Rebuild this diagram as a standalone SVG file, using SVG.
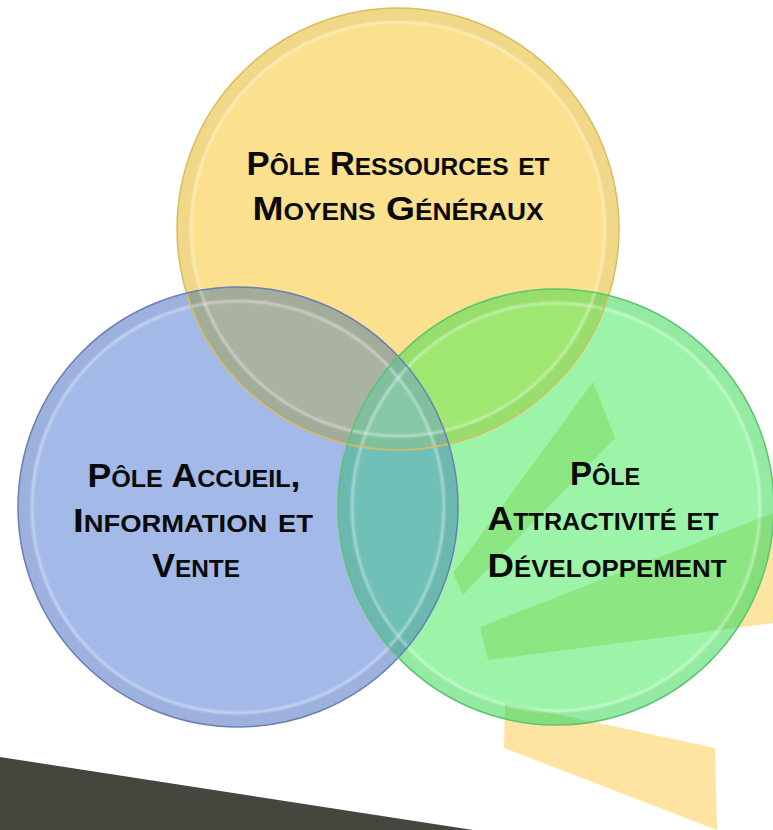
<svg xmlns="http://www.w3.org/2000/svg" width="773" height="830" viewBox="0 0 773 830">
<defs>
<style>
.lbl{font-family:"Liberation Sans",Arial,sans-serif;font-weight:bold;font-size:34px;font-variant:small-caps;fill:#0a0a0a;text-anchor:middle}
.band{fill:#fde4a0}
.hl{fill:none;stroke:#ffffff;stroke-opacity:0.42;stroke-width:2.5}
.rim{fill:none;stroke:#000;stroke-opacity:0.04;stroke-width:13}
</style>
<filter id="blur" x="-10%" y="-10%" width="120%" height="120%"><feGaussianBlur stdDeviation="1.3"/></filter>
<clipPath id="cY"><circle cx="398" cy="229" r="221"/></clipPath>
<clipPath id="cB"><circle cx="238" cy="507" r="220"/></clipPath>
<clipPath id="cG"><circle cx="556" cy="507" r="218"/></clipPath>
</defs>
<rect width="773" height="830" fill="#ffffff"/>
<g id="background">
<polygon points="0,757 473,830 0,830" fill="#46463f"/>
<polygon class="band" points="593,382 615,438 463,595 453,573"/>
<polygon class="band" points="480,627 773,513 773,623 488,660"/>
<polygon class="band" points="505,703 715,748 717,830 504,748"/>
</g>
<g id="node-ressources">
<circle cx="398" cy="229" r="221" fill="#fbe08e"/>
</g>
<g id="node-accueil">
<circle cx="238" cy="507" r="220" fill="#a3b9e8"/>
</g>
<g id="node-attractivite">
<circle cx="556" cy="507" r="218" fill="#9cf4a8"/>
<g clip-path="url(#cG)" fill="#8ce782">
<polygon points="593,382 615,438 463,595 453,573"/>
<polygon points="480,627 773,513 773,623 488,660"/>
<polygon points="505,703 715,748 717,830 504,748"/>
</g>
</g>
<g id="overlaps">
<g clip-path="url(#cY)"><circle cx="238" cy="507" r="220" fill="#aab2a2"/></g>
<g clip-path="url(#cY)"><circle cx="556" cy="507" r="218" fill="#9ee872"/></g>
<g clip-path="url(#cB)"><circle cx="556" cy="507" r="218" fill="#70c0b8"/></g>
<g clip-path="url(#cY)"><g clip-path="url(#cB)"><circle cx="556" cy="507" r="218" fill="#86c8a6"/></g></g>
</g>
<g id="rims">
<circle class="rim" cx="398" cy="229" r="214.5"/>
<circle class="rim" cx="238" cy="507" r="213.5"/>
<circle class="rim" cx="556" cy="507" r="211.5"/>
<g filter="url(#blur)">
<circle class="hl" cx="398" cy="229" r="207"/>
<circle class="hl" cx="238" cy="507" r="206"/>
<circle class="hl" cx="556" cy="507" r="204"/>
</g>
<circle cx="398" cy="229" r="221" fill="none" stroke="#d8bd5e" stroke-width="1.5"/>
<circle cx="238" cy="507" r="220" fill="none" stroke="#6a7fb2" stroke-width="1.5"/>
<circle cx="556" cy="507" r="218" fill="none" stroke="#5cc472" stroke-width="1.5"/>
</g>
<g id="labels">
<text class="lbl" x="398" y="175" textLength="303" lengthAdjust="spacingAndGlyphs">Pôle Ressources et</text>
<text class="lbl" x="398" y="220" textLength="291" lengthAdjust="spacingAndGlyphs">Moyens Généraux</text>
<text class="lbl" x="194" y="487" textLength="213" lengthAdjust="spacingAndGlyphs">Pôle Accueil,</text>
<text class="lbl" x="193" y="532" textLength="240" lengthAdjust="spacingAndGlyphs">Information et</text>
<text class="lbl" x="196" y="577" textLength="88" lengthAdjust="spacingAndGlyphs">Vente</text>
<text class="lbl" x="605" y="485" textLength="70" lengthAdjust="spacingAndGlyphs">Pôle</text>
<text class="lbl" x="603" y="530" textLength="231" lengthAdjust="spacingAndGlyphs">Attractivité et</text>
<text class="lbl" x="607" y="577" textLength="239" lengthAdjust="spacingAndGlyphs">Développement</text>
</g>
<g id="connectors"/>
</svg>
